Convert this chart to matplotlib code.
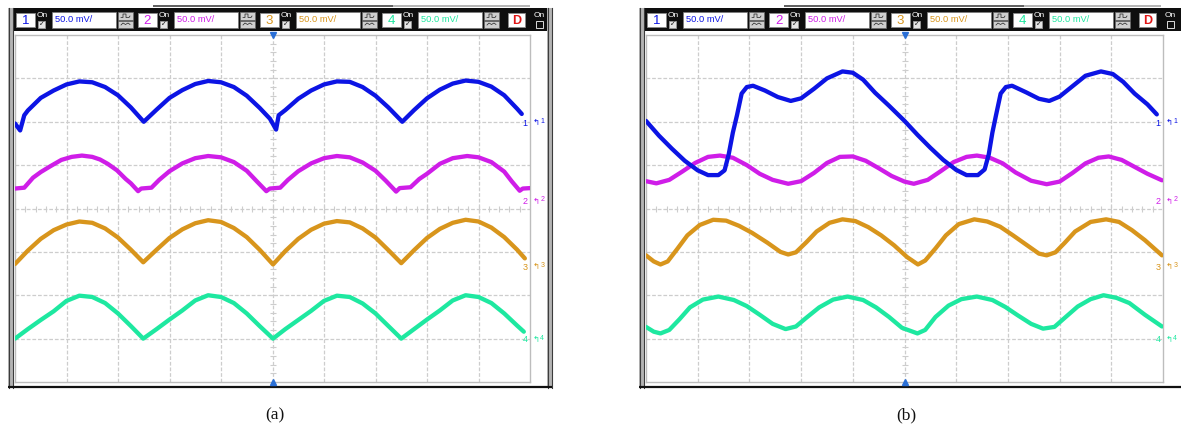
import matplotlib
matplotlib.use("Agg")
import matplotlib.pyplot as plt
from matplotlib.patches import Rectangle

W, H, DPI = 1181, 428, 100

CH_NAMES = ["1", "2", "3", "4"]
CH_COLORS = ["#0c14e4", "#cf1de8", "#d8951c", "#1ee8a0"]
SCALE_TEXT = "50.0 mV/"
PANEL_LABELS = ["(a)", "(b)"]
GROUND_LEVELS = [1.97, 0.17, -1.35, -3.03]   # channel ground markers, divisions

# ---- panel (a): time in divisions, amplitude in divisions ----
a_t_ch1 = [0.00, 0.10, 0.18, 0.25, 0.50, 0.75, 1.00, 1.25, 1.50, 1.75, 2.00, 2.25, 2.50,
           2.75, 3.00, 3.25, 3.50, 3.75, 4.00, 4.25, 4.50, 4.75, 4.95, 5.07, 5.12, 5.25,
           5.50, 5.75, 6.00, 6.25, 6.50, 6.75, 7.00, 7.25, 7.52, 7.75, 8.00, 8.25, 8.50,
           8.75, 9.00, 9.25, 9.50, 9.75, 9.84]
a_v_ch1 = [1.96, 1.80, 2.15, 2.26, 2.55, 2.72, 2.86, 2.93, 2.91, 2.80, 2.61, 2.33, 2.00,
           2.28, 2.55, 2.73, 2.87, 2.94, 2.91, 2.80, 2.60, 2.32, 2.07, 1.82, 2.15, 2.27,
           2.53, 2.72, 2.86, 2.93, 2.92, 2.80, 2.60, 2.33, 2.00, 2.27, 2.54, 2.74, 2.88,
           2.95, 2.92, 2.81, 2.61, 2.30, 2.18]

a_t_ch2 = [0.00, 0.18, 0.35, 0.50, 0.68, 0.90, 1.10, 1.30, 1.50, 1.65, 1.80, 1.98, 2.15,
           2.25, 2.39, 2.45, 2.65, 2.80, 3.00, 3.25, 3.50, 3.75, 4.00, 4.25, 4.50, 4.70,
           4.88, 4.95, 5.15, 5.30, 5.50, 5.75, 6.00, 6.25, 6.50, 6.75, 7.00, 7.20, 7.40,
           7.47, 7.68, 7.85, 8.00, 8.25, 8.50, 8.78, 9.00, 9.25, 9.50, 9.65, 9.80, 9.86,
           10.00]
a_v_ch2 = [0.46, 0.48, 0.71, 0.84, 0.97, 1.12, 1.19, 1.22, 1.19, 1.13, 1.03, 0.88, 0.68,
           0.58, 0.40, 0.46, 0.48, 0.66, 0.86, 1.04, 1.16, 1.21, 1.18, 1.07, 0.87, 0.62,
           0.40, 0.46, 0.48, 0.66, 0.86, 1.04, 1.16, 1.21, 1.18, 1.06, 0.87, 0.64, 0.39,
           0.47, 0.49, 0.68, 0.80, 1.03, 1.16, 1.21, 1.18, 1.07, 0.85, 0.62, 0.41, 0.46,
           0.47]

a_t_ch3 = [0.00, 0.25, 0.50, 0.75, 1.00, 1.25, 1.50, 1.75, 2.00, 2.25, 2.49, 2.75, 3.00,
           3.25, 3.50, 3.75, 4.00, 4.25, 4.50, 4.75, 5.01, 5.25, 5.50, 5.75, 6.00, 6.25,
           6.50, 6.75, 7.00, 7.25, 7.50, 7.75, 8.00, 8.25, 8.50, 8.75, 9.00, 9.25, 9.50,
           9.75, 9.90]
a_v_ch3 = [-1.28, -0.97, -0.70, -0.50, -0.37, -0.30, -0.33, -0.46, -0.67, -0.95, -1.24,
           -0.95, -0.68, -0.48, -0.34, -0.27, -0.31, -0.45, -0.66, -0.95, -1.29, -0.98,
           -0.70, -0.49, -0.35, -0.29, -0.32, -0.46, -0.67, -0.96, -1.26, -0.96, -0.68,
           -0.47, -0.33, -0.26, -0.30, -0.44, -0.66, -0.95, -1.15]

a_t_ch4 = [0.00, 0.25, 0.50, 0.75, 1.00, 1.25, 1.50, 1.75, 2.00, 2.25, 2.49, 2.75, 3.00,
           3.25, 3.50, 3.75, 4.00, 4.25, 4.50, 4.75, 5.01, 5.25, 5.50, 5.75, 6.00, 6.25,
           6.50, 6.75, 7.00, 7.25, 7.50, 7.75, 8.00, 8.25, 8.50, 8.75, 9.00, 9.25, 9.50,
           9.75, 9.88]
a_v_ch4 = [-3.00, -2.78, -2.57, -2.37, -2.13, -2.01, -2.04, -2.18, -2.42, -2.71, -3.00,
           -2.78, -2.56, -2.35, -2.12, -2.00, -2.04, -2.18, -2.42, -2.71, -3.00, -2.78,
           -2.57, -2.36, -2.13, -2.01, -2.04, -2.19, -2.42, -2.71, -3.00, -2.78, -2.56,
           -2.35, -2.12, -2.00, -2.04, -2.18, -2.42, -2.70, -2.84]

# ---- panel (b) ----
b_t_ch1 = [0.00, 0.25, 0.50, 0.75, 1.00, 1.20, 1.40, 1.52, 1.60, 1.68, 1.76, 1.85, 1.95,
           2.07, 2.30, 2.55, 2.80, 3.00, 3.25, 3.50, 3.80, 4.00, 4.20, 4.43, 4.70, 5.00,
           5.25, 5.50, 5.75, 6.00, 6.20, 6.42, 6.55, 6.63, 6.70, 6.77, 6.86, 6.96, 7.08,
           7.35, 7.60, 7.80, 8.00, 8.25, 8.50, 8.80, 9.03, 9.23, 9.45, 9.70, 9.88]
b_v_ch1 = [2.02, 1.68, 1.38, 1.10, 0.88, 0.77, 0.77, 0.88, 1.25, 1.75, 2.15, 2.65, 2.80,
           2.83, 2.72, 2.57, 2.48, 2.54, 2.76, 3.00, 3.16, 3.13, 2.97, 2.67, 2.37, 2.02,
           1.70, 1.40, 1.12, 0.89, 0.77, 0.77, 0.90, 1.25, 1.75, 2.15, 2.65, 2.80, 2.83,
           2.68, 2.53, 2.48, 2.58, 2.82, 3.06, 3.16, 3.10, 2.92, 2.65, 2.40, 2.17]

b_t_ch2 = [0.00, 0.20, 0.45, 0.70, 0.95, 1.20, 1.43, 1.68, 1.95, 2.20, 2.45, 2.75, 3.00,
           3.25, 3.50, 3.75, 4.00, 4.25, 4.50, 4.75, 5.00, 5.18, 5.45, 5.70, 5.95, 6.20,
           6.40, 6.65, 6.90, 7.15, 7.45, 7.75, 8.00, 8.25, 8.50, 8.75, 8.95, 9.20, 9.45,
           9.70, 9.98]
b_v_ch2 = [0.63, 0.58, 0.66, 0.85, 1.05, 1.19, 1.22, 1.17, 1.00, 0.80, 0.66, 0.57, 0.63,
           0.82, 1.05, 1.19, 1.20, 1.10, 0.93, 0.75, 0.62, 0.57, 0.66, 0.86, 1.07, 1.19,
           1.22, 1.17, 1.04, 0.83, 0.64, 0.56, 0.62, 0.82, 1.04, 1.17, 1.20, 1.12, 0.96,
           0.80, 0.65]

b_t_ch3 = [0.00, 0.15, 0.28, 0.42, 0.60, 0.80, 1.04, 1.30, 1.55, 1.80, 2.05, 2.35, 2.60,
           2.75, 2.90, 3.10, 3.30, 3.55, 3.80, 4.05, 4.30, 4.55, 4.80, 5.05, 5.26, 5.40,
           5.60, 5.80, 6.05, 6.35, 6.60, 6.85, 7.10, 7.35, 7.60, 7.75, 7.92, 8.10, 8.30,
           8.60, 8.90, 9.15, 9.40, 9.65, 9.98]
b_v_ch3 = [-1.08, -1.22, -1.29, -1.22, -0.94, -0.62, -0.38, -0.26, -0.28, -0.40, -0.56,
           -0.79, -1.00, -1.06, -1.01, -0.78, -0.53, -0.33, -0.25, -0.29, -0.43, -0.62,
           -0.85, -1.12, -1.29, -1.20, -0.92, -0.62, -0.36, -0.25, -0.30, -0.42, -0.62,
           -0.83, -1.04, -1.08, -1.01, -0.79, -0.53, -0.31, -0.25, -0.31, -0.50, -0.73,
           -1.08]

b_t_ch4 = [0.00, 0.15, 0.28, 0.45, 0.65, 0.85, 1.10, 1.40, 1.70, 1.95, 2.20, 2.45, 2.70,
           2.90, 3.10, 3.35, 3.62, 3.90, 4.20, 4.45, 4.70, 4.95, 5.25, 5.40, 5.60, 5.85,
           6.10, 6.40, 6.70, 6.95, 7.20, 7.45, 7.68, 7.90, 8.10, 8.35, 8.60, 8.85, 9.10,
           9.35, 9.65, 9.98]
b_v_ch4 = [-2.73, -2.84, -2.88, -2.80, -2.55, -2.28, -2.10, -2.03, -2.11, -2.25, -2.45,
           -2.66, -2.78, -2.72, -2.52, -2.28, -2.10, -2.03, -2.11, -2.28, -2.50, -2.75,
           -2.88, -2.80, -2.50, -2.24, -2.09, -2.03, -2.11, -2.27, -2.47, -2.66, -2.77,
           -2.73, -2.52, -2.26, -2.09, -2.00, -2.06, -2.18, -2.45, -2.72]

PANELS = [
    {"dx": 0, "plot": (15, 35, 530, 382), "right_rail": True,
     "traces": [(a_t_ch1, a_v_ch1), (a_t_ch2, a_v_ch2), (a_t_ch3, a_v_ch3), (a_t_ch4, a_v_ch4)]},
    {"dx": 631, "plot": (646, 35, 1163, 382), "right_rail": False,
     "traces": [(b_t_ch1, b_v_ch1), (b_t_ch2, b_v_ch2), (b_t_ch3, b_v_ch3), (b_t_ch4, b_v_ch4)]},
]

HDR_FONT = "Liberation Sans"
GRID_COLOR = "#cdcdcd"

fig = plt.figure(figsize=(W / DPI, H / DPI), dpi=DPI)
fig.patch.set_facecolor("white")

# background layer in pixel coordinates (frames, header bar)
bg = fig.add_axes([0, 0, 1, 1])
bg.set_xlim(0, W)
bg.set_ylim(H, 0)
bg.axis("off")


def rect(ax, x0, y0, w, h, **kw):
    ax.add_patch(Rectangle((x0, y0), w, h, **kw))


def draw_frame(ax, dx, right_rail):
    # thin title strip above the header
    ax.plot([153 + dx, 393 + dx], [6, 6], color="#333333", lw=1.1, solid_capstyle="butt")
    ax.plot([393 + dx, 530 + dx], [6, 6], color="#a0a0a0", lw=1.1, solid_capstyle="butt")
    # header bar
    rect(ax, 10 + dx, 8, 540, 23, fc="#0e0e0e", ec="none")
    # left and right double rails
    rails = [8 + dx] + ([547 + dx] if right_rail else [])
    for x0 in rails:
        rect(ax, x0, 8, 5, 380, fc="#b4b4b4", ec="none")
        ax.plot([x0 + 0.5, x0 + 0.5], [8, 388], color="#3c3c3c", lw=0.8)
        ax.plot([x0 + 4.5, x0 + 4.5], [8, 388], color="#3c3c3c", lw=0.8)
    # bottom rail
    ax.plot([8 + dx, 552 + dx], [387, 387], color="#111111", lw=1.6, solid_capstyle="butt")


def draw_icons(ax, x, y):
    rect(ax, x, y, 15, 7.5, fc="#cfcfcf", ec="#6a6a6a", lw=0.5)
    rect(ax, x, y + 8.5, 15, 7.5, fc="#cfcfcf", ec="#6a6a6a", lw=0.5)
    ax.plot([x + 3, x + 5, x + 5, x + 8, x + 8, x + 11, x + 12],
            [y + 5.5, y + 5.5, y + 2, y + 2, y + 5.5, y + 5.5, y + 4], color="#222222", lw=0.5)
    ax.plot([x + 3, x + 5, x + 7.5, x + 10, x + 12],
            [y + 13, y + 11, y + 12.5, y + 11, y + 12.5], color="#222222", lw=0.5)


def draw_checkbox(ax, x, y, checked=True):
    rect(ax, x, y, 7, 7, fc="#e6e6e6" if checked else "none", ec="#9a9a9a", lw=0.6)
    if checked:
        ax.text(x + 3.5, y + 3.8, "\u2713", fontsize=5, color="#111111",
                ha="center", va="center", family="DejaVu Sans")


def draw_header(ax, dx):
    for i, (name, col) in enumerate(zip(CH_NAMES, CH_COLORS)):
        bx = 16 + 122 * i + dx
        rect(ax, bx, 13, 19, 14, fc="white", ec="#8a8a8a", lw=0.6)
        ax.text(bx + 9.5, 20.5, name, color=col, fontsize=9.5, ha="center", va="center",
                family=HDR_FONT)
        ax.text(bx + 21, 15.5, "On", color="white", fontsize=6, ha="left", va="center",
                family=HDR_FONT)
        draw_checkbox(ax, bx + 22, 20.5)
        rect(ax, bx + 36, 12, 64, 16, fc="white", ec="#7a7a7a", lw=0.5)
        ax.text(bx + 39, 19.8, SCALE_TEXT, color=col, fontsize=6.7, ha="left", va="center",
                family=HDR_FONT)
        draw_icons(ax, bx + 102, 12)
    # math channel
    rect(ax, 508 + dx, 13, 17, 14, fc="white", ec="#8a8a8a", lw=0.6)
    ax.text(516.5 + dx, 20.5, "D", color="#e01515", fontsize=9, ha="center", va="center",
            family=HDR_FONT, fontweight="bold")
    ax.text(534 + dx, 15.5, "On", color="white", fontsize=6, ha="left", va="center",
            family=HDR_FONT)
    rect(ax, 536 + dx, 20.5, 7, 7, fc="none", ec="#dcdcdc", lw=0.7)


for p in PANELS:
    draw_frame(bg, p["dx"], p["right_rail"])
    draw_header(bg, p["dx"])

# oscilloscope graticules
for p, label in zip(PANELS, PANEL_LABELS):
    x0, y0, x1, y1 = p["plot"]
    ax = fig.add_axes([x0 / W, 1 - y1 / H, (x1 - x0) / W, (y1 - y0) / H])
    ax.set_xlim(0, 10)
    ax.set_ylim(-4, 4)
    ax.set_xticks([])
    ax.set_yticks([])
    for s in ax.spines.values():
        s.set_color("#bdbdbd")
        s.set_linewidth(1.0)
    for gx in range(1, 10):
        ax.axvline(gx, color=GRID_COLOR, lw=0.9, ls=(0, (3, 1.5)), zorder=1)
    for gy in range(-3, 4):
        ax.axhline(gy, color=GRID_COLOR, lw=0.9, ls=(0, (3, 1.5)), zorder=1)
    minor = [k * 0.2 for k in range(1, 50)]
    ax.plot(minor, [0] * len(minor), ls="none", marker="|", ms=4, mew=0.8,
            color=GRID_COLOR, zorder=1)
    minor_y = [-4 + k * 0.2 for k in range(1, 40)]
    ax.plot([5] * len(minor_y), minor_y, ls="none", marker="_", ms=4, mew=0.8,
            color=GRID_COLOR, zorder=1)
    ax.plot([5], [4], marker="v", ms=4.5, color="#2a6fd6", clip_on=False, zorder=5)
    ax.plot([5], [-4], marker="^", ms=4.5, color="#2a6fd6", clip_on=False, zorder=5)

    for k in (3, 2, 1, 0):
        t, v = p["traces"][k]
        ax.plot(t, v, color=CH_COLORS[k], lw=3.1, solid_joinstyle="round",
                solid_capstyle="round", zorder=3 + (3 - k) * 0.1)

    # channel ground markers on the right edge
    tr = ax.get_yaxis_transform()
    for k, lev in enumerate(GROUND_LEVELS):
        ax.text(0.990, lev, CH_NAMES[k], transform=tr, color=CH_COLORS[k], fontsize=6.5,
                ha="center", va="center", family=HDR_FONT, clip_on=False, zorder=6)
        ax.text(1.006, lev, "\u21b0", transform=tr, color=CH_COLORS[k], fontsize=6,
                ha="left", va="center", family="DejaVu Sans", clip_on=False, zorder=6)
        ax.text(1.020, lev + 0.03, CH_NAMES[k], transform=tr, color=CH_COLORS[k],
                fontsize=5, ha="left", va="center", family=HDR_FONT, clip_on=False, zorder=6)

    cx = (x0 + x1) / 2
    bg.text(cx + 2, 415, label, fontsize=12.5, ha="center", va="center",
            family="Liberation Serif", color="#111111")

fig.savefig("out.png", dpi=DPI)
